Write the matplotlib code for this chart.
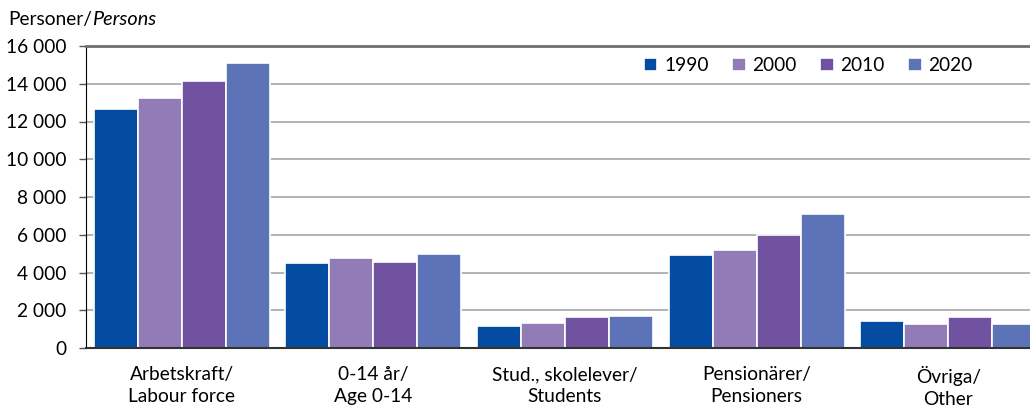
import numpy as np
import matplotlib.pyplot as plt
from matplotlib.ticker import FuncFormatter

plt.rcParams['font.family'] = ['Lato', 'DejaVu Sans']

kategorier = ['Arbetskraft/\nLabour force', '0-14 år/\nAge 0-14',
              'Stud., skolelever/\nStudents', 'Pensionärer/\nPensioners',
              'Övriga/\nOther']
ar = ['1990', '2000', '2010', '2020']
v1990 = [12640, 4500, 1150, 4930, 1430]
v2000 = [13220, 4770, 1325, 5190, 1290]
v2010 = [14150, 4560, 1660, 6000, 1640]
v2020 = [15120, 4980, 1710, 7120, 1250]
farger = ['#044CA2', '#917CB8', '#7052A0', '#5C74B7']

serier = [v1990, v2000, v2010, v2020]
fs = 13.8

fig = plt.figure(figsize=(10.30, 4.08), dpi=100)
ax = fig.add_axes([86/1030, 60/408, 958/1030, 302/408])

x = np.arange(len(kategorier))
steg = 0.2296
for i, (vals, farg) in enumerate(zip(serier, farger)):
    ax.bar(x + (i - 1.5)*steg, vals, width=steg, color=farg,
           edgecolor='white', linewidth=1.2, label=ar[i], zorder=3)

ax.set_xlim(-0.5, len(kategorier) - 0.5)
ax.set_ylim(0, 16000)
ax.set_yticks(np.arange(0, 16001, 2000))
ax.yaxis.set_major_formatter(FuncFormatter(lambda v, p: f'{int(v):,}'.replace(',', ' ')))
ax.set_xticks(x)
ax.set_xticklabels(kategorier, fontsize=fs, linespacing=1.35)
ax.tick_params(axis='x', length=0, pad=13)
ax.tick_params(axis='y', length=5, width=1, labelsize=fs, pad=9, color='#555555')

ax.grid(axis='y', color='#a6a6a6', linewidth=1.2, zorder=0)
ax.spines['right'].set_visible(False)
ax.spines['top'].set_color('#6f6f6f')
ax.spines['top'].set_linewidth(2)
ax.spines['left'].set_color('black')
ax.spines['bottom'].set_color('#333333')
ax.spines['bottom'].set_linewidth(1.5)
ax.spines['bottom'].set_zorder(4)

ax.legend(loc='center', bbox_to_anchor=(0.754, 0.935), ncol=4, frameon=False,
          fontsize=fs, handlelength=0.7, handleheight=0.7,
          handletextpad=0.35, columnspacing=1.23, borderaxespad=0)

t1 = fig.text(8/1030, 1 - 25/408, 'Personer/', fontsize=fs, va='baseline')
ax.annotate('Persons', xy=(1, 0), xycoords=t1, fontsize=fs + 0.5,
            style='italic', va='bottom', annotation_clip=False)

fig.savefig('out.png', dpi=100)
